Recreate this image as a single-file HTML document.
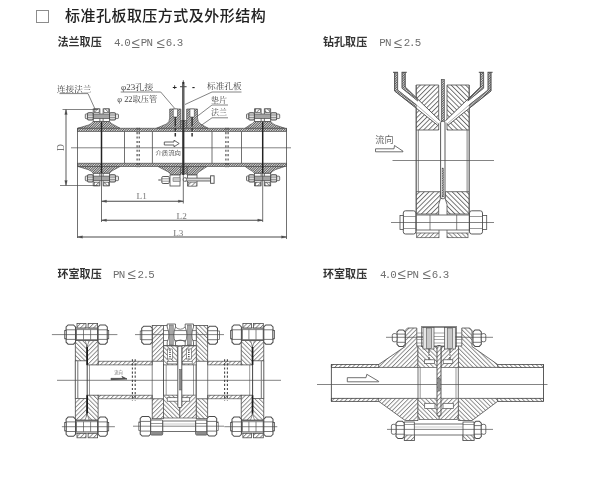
<!DOCTYPE html>
<html lang="zh-CN">
<head>
<meta charset="utf-8">
<title>标准孔板取压方式及外形结构</title>
<style>
html,body{margin:0;padding:0;background:#fff;}
body{width:600px;height:490px;position:relative;overflow:hidden;font-family:"Liberation Sans","Noto Sans CJK SC",sans-serif;}
.t{position:absolute;white-space:nowrap;line-height:1;}
.title{left:65px;top:7.5px;font-size:15px;color:#222;font-weight:500;letter-spacing:0.47px;}
.box{position:absolute;left:35.5px;top:9.5px;width:13px;height:13.5px;border:1px solid #8c8c8c;box-sizing:border-box;}
.h{font-size:11px;color:#333;font-weight:700;letter-spacing:0.05px;}
.p{font-size:10.5px;color:#666;font-family:"Liberation Mono","Noto Sans CJK SC",monospace;letter-spacing:0.4px;}
svg{position:absolute;left:0;top:0;filter:blur(0.4px);}
.t,.box{filter:blur(0.3px);}
</style>
</head>
<body>
<div class="box"></div>
<div class="t title">标准孔板取压方式及外形结构</div>
<div class="t h" style="left:57.5px;top:37.3px;">法兰取压</div>
<div class="t h" style="left:323px;top:37.3px;">钻孔取压</div>
<div class="t h" style="left:57.5px;top:269px;">环室取压</div>
<div class="t h" style="left:323px;top:269px;">环室取压</div>
<svg width="600" height="490" viewBox="0 0 600 490">
<defs>
<pattern id="h1" width="3.1" height="3.1" patternUnits="userSpaceOnUse" patternTransform="rotate(45)"><rect width="3.1" height="3.1" fill="#fff"/><line x1="0.5" y1="0" x2="0.5" y2="3.1" stroke="#606060" stroke-width="0.7"/></pattern>
<pattern id="h2" width="3.1" height="3.1" patternUnits="userSpaceOnUse" patternTransform="rotate(-45)"><rect width="3.1" height="3.1" fill="#fff"/><line x1="0.5" y1="0" x2="0.5" y2="3.1" stroke="#606060" stroke-width="0.7"/></pattern>
<pattern id="b1" width="3.4" height="3.4" patternUnits="userSpaceOnUse" patternTransform="rotate(45)"><rect width="3.4" height="3.4" fill="#fff"/><line x1="0.5" y1="0" x2="0.5" y2="3.4" stroke="#5a5a5a" stroke-width="0.85"/></pattern>
<pattern id="b2" width="3.4" height="3.4" patternUnits="userSpaceOnUse" patternTransform="rotate(-45)"><rect width="3.4" height="3.4" fill="#fff"/><line x1="0.5" y1="0" x2="0.5" y2="3.4" stroke="#5a5a5a" stroke-width="0.85"/></pattern>
<pattern id="hd" width="1.7" height="1.7" patternUnits="userSpaceOnUse" patternTransform="rotate(45)"><rect width="1.7" height="1.7" fill="#e4e4e4"/><line x1="0.5" y1="0" x2="0.5" y2="1.7" stroke="#444" stroke-width="0.8"/></pattern>
<pattern id="hd2" width="1.5" height="1.5" patternUnits="userSpaceOnUse"><rect width="1.5" height="1.5" fill="#fff"/><line x1="0" y1="0" x2="0" y2="1.5" stroke="#444" stroke-width="0.8"/></pattern>
</defs>
<rect x="77.5" y="128.2" width="209.0" height="3.2" fill="url(#hd)" stroke="#4c4c4c" stroke-width="0.69" rx="0" />
<rect x="77.5" y="163.2" width="209.0" height="3.3" fill="url(#hd)" stroke="#4c4c4c" stroke-width="0.69" rx="0" />
<line x1="77.5" y1="128.2" x2="77.5" y2="238.0" stroke="#4c4c4c" stroke-width="0.80" />
<line x1="286.5" y1="128.2" x2="286.5" y2="239.0" stroke="#4c4c4c" stroke-width="0.80" />
<line x1="71.0" y1="147.8" x2="291.0" y2="147.8" stroke="#4c4c4c" stroke-width="0.69" />
<line x1="124.5" y1="131.4" x2="124.5" y2="163.2" stroke="#4c4c4c" stroke-width="0.80" />
<line x1="152.4" y1="131.4" x2="152.4" y2="163.2" stroke="#4c4c4c" stroke-width="0.80" />
<line x1="212.0" y1="131.4" x2="212.0" y2="163.2" stroke="#4c4c4c" stroke-width="0.80" />
<line x1="241.5" y1="131.4" x2="241.5" y2="163.2" stroke="#4c4c4c" stroke-width="0.80" />
<line x1="137.1" y1="127.7" x2="137.1" y2="167.5" stroke="#444" stroke-width="1.09" stroke-dasharray="2.1 2.3"/>
<line x1="139.2" y1="127.7" x2="139.2" y2="167.5" stroke="#444" stroke-width="1.09" stroke-dasharray="2.1 2.3"/>
<line x1="225.9" y1="127.7" x2="225.9" y2="167.5" stroke="#444" stroke-width="1.09" stroke-dasharray="2.1 2.3"/>
<line x1="228.1" y1="127.7" x2="228.1" y2="167.5" stroke="#444" stroke-width="1.09" stroke-dasharray="2.1 2.3"/>
<path d="M78.0,128.2 L88.5,125.0 Q92.0,123.6 93.2,121.4 L109.5,121.4 Q111.0,123.6 114.0,125.0 L120.0,128.2 Z" fill="url(#hd)" stroke="#4c4c4c" stroke-width="0.69" />
<rect x="93.2" y="108.9" width="6.7" height="12.5" fill="#fff" stroke="#4c4c4c" stroke-width="0.80" rx="0" />
<rect x="103.1" y="108.9" width="6.4" height="12.5" fill="#fff" stroke="#4c4c4c" stroke-width="0.80" rx="0" />
<rect x="94.2" y="108.9" width="5.0" height="3.6" fill="url(#h1)" stroke="#4c4c4c" stroke-width="0.69" rx="0" />
<rect x="103.8" y="108.9" width="5.0" height="3.6" fill="url(#h2)" stroke="#4c4c4c" stroke-width="0.69" rx="0" />
<rect x="93.2" y="114.0" width="16.3" height="4.6" fill="#a4a4a4" stroke="#4c4c4c" stroke-width="0.69" rx="0" />
<rect x="87.5" y="112.7" width="5.7" height="7.2" fill="#dcdcdc" stroke="#4c4c4c" stroke-width="1.03" rx="1.2" />
<rect x="109.5" y="112.7" width="6.0" height="7.2" fill="#dcdcdc" stroke="#4c4c4c" stroke-width="1.03" rx="1.2" />
<line x1="87.5" y1="115.0" x2="93.2" y2="115.0" stroke="#4c4c4c" stroke-width="0.57" />
<line x1="87.5" y1="117.6" x2="93.2" y2="117.6" stroke="#4c4c4c" stroke-width="0.57" />
<line x1="109.5" y1="115.0" x2="115.5" y2="115.0" stroke="#4c4c4c" stroke-width="0.57" />
<line x1="109.5" y1="117.6" x2="115.5" y2="117.6" stroke="#4c4c4c" stroke-width="0.57" />
<rect x="85.3" y="113.9" width="2.2" height="4.8" fill="#e8e8e8" stroke="#4c4c4c" stroke-width="0.80" rx="0.8" />
<rect x="115.5" y="114.1" width="3.0" height="4.4" fill="#e8e8e8" stroke="#4c4c4c" stroke-width="0.80" rx="0.8" />
<path d="M78.0,166.5 L88.5,169.7 Q92.0,171.1 93.2,173.3 L109.5,173.3 Q111.0,171.1 114.0,169.7 L120.0,166.5 Z" fill="url(#hd)" stroke="#4c4c4c" stroke-width="0.69" />
<rect x="93.2" y="173.3" width="6.7" height="12.5" fill="#fff" stroke="#4c4c4c" stroke-width="0.80" rx="0" />
<rect x="103.1" y="173.3" width="6.4" height="12.5" fill="#fff" stroke="#4c4c4c" stroke-width="0.80" rx="0" />
<rect x="94.2" y="182.2" width="5.0" height="3.6" fill="url(#h1)" stroke="#4c4c4c" stroke-width="0.69" rx="0" />
<rect x="103.8" y="182.2" width="5.0" height="3.6" fill="url(#h2)" stroke="#4c4c4c" stroke-width="0.69" rx="0" />
<rect x="93.2" y="176.1" width="16.3" height="4.6" fill="#a4a4a4" stroke="#4c4c4c" stroke-width="0.69" rx="0" />
<rect x="87.5" y="174.8" width="5.7" height="7.2" fill="#dcdcdc" stroke="#4c4c4c" stroke-width="1.03" rx="1.2" />
<rect x="109.5" y="174.8" width="6.0" height="7.2" fill="#dcdcdc" stroke="#4c4c4c" stroke-width="1.03" rx="1.2" />
<line x1="87.5" y1="177.1" x2="93.2" y2="177.1" stroke="#4c4c4c" stroke-width="0.57" />
<line x1="87.5" y1="179.7" x2="93.2" y2="179.7" stroke="#4c4c4c" stroke-width="0.57" />
<line x1="109.5" y1="177.1" x2="115.5" y2="177.1" stroke="#4c4c4c" stroke-width="0.57" />
<line x1="109.5" y1="179.7" x2="115.5" y2="179.7" stroke="#4c4c4c" stroke-width="0.57" />
<rect x="85.3" y="176.0" width="2.2" height="4.8" fill="#e8e8e8" stroke="#4c4c4c" stroke-width="0.80" rx="0.8" />
<rect x="115.5" y="176.2" width="3.0" height="4.4" fill="#e8e8e8" stroke="#4c4c4c" stroke-width="0.80" rx="0.8" />
<line x1="101.5" y1="121.5" x2="101.5" y2="173.5" stroke="#222" stroke-width="1.49" />
<path d="M245.2,128.2 L249.7,125.0 Q253.2,123.6 254.4,121.4 L270.7,121.4 Q272.2,123.6 275.2,125.0 L284.7,128.2 Z" fill="url(#hd)" stroke="#4c4c4c" stroke-width="0.69" />
<rect x="254.4" y="108.9" width="6.7" height="12.5" fill="#fff" stroke="#4c4c4c" stroke-width="0.80" rx="0" />
<rect x="264.3" y="108.9" width="6.4" height="12.5" fill="#fff" stroke="#4c4c4c" stroke-width="0.80" rx="0" />
<rect x="255.4" y="108.9" width="5.0" height="3.6" fill="url(#h1)" stroke="#4c4c4c" stroke-width="0.69" rx="0" />
<rect x="265.0" y="108.9" width="5.0" height="3.6" fill="url(#h2)" stroke="#4c4c4c" stroke-width="0.69" rx="0" />
<rect x="254.4" y="114.0" width="16.3" height="4.6" fill="#a4a4a4" stroke="#4c4c4c" stroke-width="0.69" rx="0" />
<rect x="248.7" y="112.7" width="5.7" height="7.2" fill="#dcdcdc" stroke="#4c4c4c" stroke-width="1.03" rx="1.2" />
<rect x="270.7" y="112.7" width="6.0" height="7.2" fill="#dcdcdc" stroke="#4c4c4c" stroke-width="1.03" rx="1.2" />
<line x1="248.7" y1="115.0" x2="254.4" y2="115.0" stroke="#4c4c4c" stroke-width="0.57" />
<line x1="248.7" y1="117.6" x2="254.4" y2="117.6" stroke="#4c4c4c" stroke-width="0.57" />
<line x1="270.7" y1="115.0" x2="276.7" y2="115.0" stroke="#4c4c4c" stroke-width="0.57" />
<line x1="270.7" y1="117.6" x2="276.7" y2="117.6" stroke="#4c4c4c" stroke-width="0.57" />
<rect x="246.5" y="113.9" width="2.2" height="4.8" fill="#e8e8e8" stroke="#4c4c4c" stroke-width="0.80" rx="0.8" />
<rect x="276.7" y="114.1" width="3.0" height="4.4" fill="#e8e8e8" stroke="#4c4c4c" stroke-width="0.80" rx="0.8" />
<path d="M245.2,166.5 L249.7,169.7 Q253.2,171.1 254.4,173.3 L270.7,173.3 Q272.2,171.1 275.2,169.7 L284.7,166.5 Z" fill="url(#hd)" stroke="#4c4c4c" stroke-width="0.69" />
<rect x="254.4" y="173.3" width="6.7" height="12.5" fill="#fff" stroke="#4c4c4c" stroke-width="0.80" rx="0" />
<rect x="264.3" y="173.3" width="6.4" height="12.5" fill="#fff" stroke="#4c4c4c" stroke-width="0.80" rx="0" />
<rect x="255.4" y="182.2" width="5.0" height="3.6" fill="url(#h1)" stroke="#4c4c4c" stroke-width="0.69" rx="0" />
<rect x="265.0" y="182.2" width="5.0" height="3.6" fill="url(#h2)" stroke="#4c4c4c" stroke-width="0.69" rx="0" />
<rect x="254.4" y="176.1" width="16.3" height="4.6" fill="#a4a4a4" stroke="#4c4c4c" stroke-width="0.69" rx="0" />
<rect x="248.7" y="174.8" width="5.7" height="7.2" fill="#dcdcdc" stroke="#4c4c4c" stroke-width="1.03" rx="1.2" />
<rect x="270.7" y="174.8" width="6.0" height="7.2" fill="#dcdcdc" stroke="#4c4c4c" stroke-width="1.03" rx="1.2" />
<line x1="248.7" y1="177.1" x2="254.4" y2="177.1" stroke="#4c4c4c" stroke-width="0.57" />
<line x1="248.7" y1="179.7" x2="254.4" y2="179.7" stroke="#4c4c4c" stroke-width="0.57" />
<line x1="270.7" y1="177.1" x2="276.7" y2="177.1" stroke="#4c4c4c" stroke-width="0.57" />
<line x1="270.7" y1="179.7" x2="276.7" y2="179.7" stroke="#4c4c4c" stroke-width="0.57" />
<rect x="246.5" y="176.0" width="2.2" height="4.8" fill="#e8e8e8" stroke="#4c4c4c" stroke-width="0.80" rx="0.8" />
<rect x="276.7" y="176.2" width="3.0" height="4.4" fill="#e8e8e8" stroke="#4c4c4c" stroke-width="0.80" rx="0.8" />
<line x1="262.7" y1="121.5" x2="262.7" y2="173.5" stroke="#222" stroke-width="1.49" />
<line x1="101.5" y1="173.5" x2="101.5" y2="222.0" stroke="#4c4c4c" stroke-width="0.80" />
<line x1="262.7" y1="173.5" x2="262.7" y2="222.0" stroke="#4c4c4c" stroke-width="0.80" />
<path d="M156.5,128.2 L166.5,124 Q169.7,122 169.7,118 L169.7,109 L180.8,109 L180.8,128.2 Z" fill="url(#hd)" stroke="#4c4c4c" stroke-width="0.69" />
<path d="M208,128.2 L200.5,124 Q197.5,122 197.5,118 L197.5,109 L186.7,109 L186.7,128.2 Z" fill="url(#hd)" stroke="#4c4c4c" stroke-width="0.69" />
<rect x="180.8" y="120.5" width="5.9" height="8.0" fill="url(#hd)" stroke="#4c4c4c" stroke-width="0.57" rx="0" />
<rect x="173.2" y="109.0" width="4.2" height="8.0" fill="#fff" stroke="#4c4c4c" stroke-width="0.57" rx="0" />
<rect x="190.0" y="109.0" width="4.2" height="8.0" fill="#fff" stroke="#4c4c4c" stroke-width="0.57" rx="0" />
<line x1="175.3" y1="117.0" x2="175.3" y2="136.5" stroke="#333" stroke-width="1.49" stroke-dasharray="9.5 1.5 3.5 1.5"/>
<line x1="192.1" y1="117.0" x2="192.1" y2="136.5" stroke="#333" stroke-width="1.49" stroke-dasharray="9.5 1.5 3.5 1.5"/>
<path d="M158,166.5 L167.5,171.5 Q170.5,173 171,175 L180.5,175 L180.5,166.5 Z" fill="url(#hd)" stroke="#4c4c4c" stroke-width="0.69" />
<path d="M207,166.5 L199.5,171.5 Q197,173 196.5,175 L187,175 L187,166.5 Z" fill="url(#hd)" stroke="#4c4c4c" stroke-width="0.69" />
<rect x="180.5" y="166.5" width="6.5" height="7.5" fill="url(#hd)" stroke="#4c4c4c" stroke-width="0.57" rx="0" />
<rect x="170.0" y="175.0" width="10.0" height="11.0" fill="#fff" stroke="#4c4c4c" stroke-width="0.80" rx="0" />
<rect x="173.0" y="177.8" width="7.0" height="3.6" fill="#ccc" stroke="#4c4c4c" stroke-width="0.46" rx="0" />
<rect x="161.8" y="176.5" width="7.6" height="7.0" fill="#fff" stroke="#4c4c4c" stroke-width="0.92" rx="1.3" />
<line x1="161.8" y1="178.8" x2="169.4" y2="178.8" stroke="#4c4c4c" stroke-width="0.57" />
<line x1="161.8" y1="181.2" x2="169.4" y2="181.2" stroke="#4c4c4c" stroke-width="0.57" />
<line x1="158.3" y1="180.0" x2="160.8" y2="180.0" stroke="#4c4c4c" stroke-width="1.03" />
<rect x="187.5" y="175.0" width="9.5" height="11.0" fill="#fff" stroke="#4c4c4c" stroke-width="0.80" rx="0" />
<rect x="188.3" y="182.3" width="7.9" height="3.7" fill="url(#h1)" stroke="#4c4c4c" stroke-width="0.46" rx="0" />
<rect x="185.0" y="178.1" width="26.0" height="2.9" fill="#ddd" stroke="#4c4c4c" stroke-width="0.80" rx="0" />
<rect x="210.6" y="175.8" width="3.5" height="7.5" fill="#fff" stroke="#4c4c4c" stroke-width="0.92" rx="0" />
<circle cx="184.8" cy="179.5" r="1.8" fill="#fff" stroke="#4c4c4c" stroke-width="0.7"/>
<line x1="183.3" y1="82.0" x2="183.3" y2="175.0" stroke="#2e2e2e" stroke-width="2.18" />
<line x1="183.3" y1="84.0" x2="183.3" y2="120.0" stroke="#bbb" stroke-width="0.46" />
<line x1="183.3" y1="175.0" x2="183.3" y2="203.5" stroke="#4c4c4c" stroke-width="0.80" />
<line x1="180.0" y1="86.7" x2="186.6" y2="86.7" stroke="#4c4c4c" stroke-width="1.03" />
<line x1="183.3" y1="80.3" x2="183.3" y2="82.0" stroke="#4c4c4c" stroke-width="0.92" />
<text x="174.6" y="90.3" font-size="7.5" font-family="'Liberation Sans','Noto Sans CJK SC',sans-serif" fill="#222" text-anchor="middle" font-weight="700">+</text>
<text x="193.5" y="90.0" font-size="9" font-family="'Liberation Sans','Noto Sans CJK SC',sans-serif" fill="#222" text-anchor="middle" font-weight="700">-</text>
<path d="M164.3,142 L174,142 L174,140.2 L179.2,143.5 L174,146.8 L174,145 L164.3,145 Z" fill="#fff" stroke="#4c4c4c" stroke-width="0.86" />
<text x="168.2" y="154.6" font-size="5.8" font-family="'Liberation Sans','Noto Sans CJK SC',sans-serif" fill="#555" text-anchor="middle" textLength="25.5" lengthAdjust="spacingAndGlyphs">介质流向</text>
<text x="57.0" y="91.6" font-size="7.6" font-family="'Liberation Serif','Noto Serif CJK SC',serif" fill="#444" text-anchor="start" textLength="34.5" lengthAdjust="spacingAndGlyphs" font-weight="400">连接法兰</text>
<path d="M59.5,93.6 L88,93.6 L95.3,109.7" fill="none" stroke="#4c4c4c" stroke-width="0.69" />
<text x="121.0" y="89.8" font-size="7.6" font-family="'Liberation Serif','Noto Serif CJK SC',serif" fill="#444" text-anchor="start" textLength="32.3" lengthAdjust="spacingAndGlyphs" font-weight="400">φ23孔接</text>
<path d="M120.7,92 L160.7,92 L174.8,108.5" fill="none" stroke="#4c4c4c" stroke-width="0.69" />
<text x="117.3" y="101.6" font-size="7.6" font-family="'Liberation Serif','Noto Serif CJK SC',serif" fill="#444" text-anchor="start" textLength="40" lengthAdjust="spacingAndGlyphs" font-weight="400">φ 22取压管</text>
<text x="207.0" y="89.3" font-size="7.6" font-family="'Liberation Serif','Noto Serif CJK SC',serif" fill="#444" text-anchor="start" textLength="34.7" lengthAdjust="spacingAndGlyphs" font-weight="400">标准孔板</text>
<path d="M241.5,92 L212,92 L185,104.5" fill="none" stroke="#4c4c4c" stroke-width="0.69" />
<text x="211.0" y="102.5" font-size="7.6" font-family="'Liberation Serif','Noto Serif CJK SC',serif" fill="#444" text-anchor="start" textLength="16" lengthAdjust="spacingAndGlyphs" font-weight="400">垫片</text>
<path d="M228,105 L212,105 L197,116.5" fill="none" stroke="#4c4c4c" stroke-width="0.69" />
<text x="211.0" y="115.4" font-size="7.6" font-family="'Liberation Serif','Noto Serif CJK SC',serif" fill="#444" text-anchor="start" textLength="16" lengthAdjust="spacingAndGlyphs" font-weight="400">法兰</text>
<path d="M228,117.8 L212,117.8 L201,125.5" fill="none" stroke="#4c4c4c" stroke-width="0.69" />
<line x1="62.5" y1="109.5" x2="98.0" y2="109.5" stroke="#4c4c4c" stroke-width="0.69" />
<line x1="60.0" y1="185.5" x2="98.0" y2="185.5" stroke="#4c4c4c" stroke-width="0.69" />
<line x1="66.0" y1="109.5" x2="66.0" y2="185.5" stroke="#4c4c4c" stroke-width="0.92" />
<polygon points="66.0,109.5 64.7,114.5 67.3,114.5" fill="#4c4c4c" stroke="#4c4c4c" stroke-width="0.23" />
<polygon points="66.0,185.5 64.7,180.5 67.3,180.5" fill="#4c4c4c" stroke="#4c4c4c" stroke-width="0.23" />
<text x="60.5" y="147.5" font-size="9.5" font-family="'Liberation Serif','Noto Serif CJK SC',serif" fill="#777" text-anchor="middle" transform="rotate(-90 60.5 147.5)" dy="3.2">D</text>
<line x1="101.5" y1="201.3" x2="183.3" y2="201.3" stroke="#4a4a4a" stroke-width="1.03" />
<polygon points="101.5,201.3 106.5,200.0 106.5,202.6" fill="#4c4c4c" stroke="#4c4c4c" stroke-width="0.23" />
<polygon points="183.3,201.3 178.3,200.0 178.3,202.6" fill="#4c4c4c" stroke="#4c4c4c" stroke-width="0.23" />
<text x="141.7" y="199.3" font-size="9.2" font-family="'Liberation Serif','Noto Serif CJK SC',serif" fill="#777" text-anchor="middle" >L1</text>
<line x1="101.5" y1="220.3" x2="262.7" y2="220.3" stroke="#4a4a4a" stroke-width="1.03" />
<polygon points="101.5,220.3 106.5,219.0 106.5,221.6" fill="#4c4c4c" stroke="#4c4c4c" stroke-width="0.23" />
<polygon points="262.7,220.3 257.7,219.0 257.7,221.6" fill="#4c4c4c" stroke="#4c4c4c" stroke-width="0.23" />
<text x="181.7" y="219.0" font-size="9.2" font-family="'Liberation Serif','Noto Serif CJK SC',serif" fill="#777" text-anchor="middle" >L2</text>
<line x1="77.5" y1="237.0" x2="286.5" y2="237.0" stroke="#4a4a4a" stroke-width="1.03" />
<polygon points="77.5,237.0 82.5,235.7 82.5,238.3" fill="#4c4c4c" stroke="#4c4c4c" stroke-width="0.23" />
<polygon points="286.5,237.0 281.5,235.7 281.5,238.3" fill="#4c4c4c" stroke="#4c4c4c" stroke-width="0.23" />
<text x="178.3" y="235.7" font-size="9.2" font-family="'Liberation Serif','Noto Serif CJK SC',serif" fill="#777" text-anchor="middle" >L3</text>
<polygon points="416.2,85.0 438.7,85.0 438.7,130.0 416.2,130.0" fill="url(#b1)" stroke="#4c4c4c" stroke-width="0.80" />
<polygon points="469.2,85.0 447.0,85.0 447.0,130.0 469.2,130.0" fill="url(#b2)" stroke="#4c4c4c" stroke-width="0.80" />
<polygon points="416.2,191.7 440.3,191.7 440.3,199.0 438.7,204.5 438.7,214.0 416.2,214.0" fill="url(#b1)" stroke="#4c4c4c" stroke-width="0.80" />
<polygon points="469.2,191.7 445.3,191.7 445.3,199.0 447.0,204.5 447.0,214.0 469.2,214.0" fill="url(#b2)" stroke="#4c4c4c" stroke-width="0.80" />
<line x1="416.2" y1="130.0" x2="416.2" y2="191.7" stroke="#4c4c4c" stroke-width="0.69" />
<line x1="418.3" y1="130.0" x2="418.3" y2="191.7" stroke="#4c4c4c" stroke-width="0.69" />
<line x1="467.1" y1="130.0" x2="467.1" y2="191.7" stroke="#4c4c4c" stroke-width="0.69" />
<line x1="469.2" y1="130.0" x2="469.2" y2="191.7" stroke="#4c4c4c" stroke-width="0.69" />
<line x1="416.2" y1="85.0" x2="416.2" y2="233.0" stroke="#4c4c4c" stroke-width="0.69" />
<line x1="469.2" y1="85.0" x2="469.2" y2="233.0" stroke="#4c4c4c" stroke-width="0.69" />
<polygon points="394.6,72.5 394.6,91.0 437.2,124.8 440.2,121.2 405.2,87.0 405.2,72.5" fill="#fff" stroke="#fff" stroke-width="0.01" />
<polygon points="394.6,72.5 394.6,91.0 416.5,108.4 416.5,105.0 397.6,90.0 397.6,72.5" fill="url(#hd)" stroke="#4c4c4c" stroke-width="0.34" />
<polygon points="405.2,72.5 405.2,87.0 417.8,99.2 417.8,101.0 402.0,88.2 402.0,72.5" fill="url(#hd)" stroke="#4c4c4c" stroke-width="0.34" />
<path d="M394.6,72.5 L394.6,91 L437.6,125.2" fill="none" stroke="#4c4c4c" stroke-width="0.92" />
<path d="M405.2,72.5 L405.2,87 L440.4,121" fill="none" stroke="#4c4c4c" stroke-width="0.92" />
<path d="M397.6,72.5 L397.6,90 L416.5,105" fill="none" stroke="#555" stroke-width="0.80" />
<path d="M402.0,72.5 L402.0,88.2 L417.8,101" fill="none" stroke="#555" stroke-width="0.80" />
<path d="M416.5,105 L438.6,124" fill="none" stroke="#777" stroke-width="0.57" />
<line x1="393.0" y1="72.3" x2="398.0" y2="72.3" stroke="#4c4c4c" stroke-width="1.03" />
<line x1="401.6" y1="72.3" x2="406.8" y2="72.3" stroke="#4c4c4c" stroke-width="1.03" />
<polygon points="491.0,72.5 491.0,91.0 448.4,124.8 445.4,121.2 480.4,87.0 480.4,72.5" fill="#fff" stroke="#fff" stroke-width="0.01" />
<polygon points="491.0,72.5 491.0,91.0 469.1,108.4 469.1,105.0 488.0,90.0 488.0,72.5" fill="url(#hd)" stroke="#4c4c4c" stroke-width="0.34" />
<polygon points="480.4,72.5 480.4,87.0 467.8,99.2 467.8,101.0 483.6,88.2 483.6,72.5" fill="url(#hd)" stroke="#4c4c4c" stroke-width="0.34" />
<path d="M491.0,72.5 L491.0,91 L448.0,125.2" fill="none" stroke="#4c4c4c" stroke-width="0.92" />
<path d="M480.4,72.5 L480.4,87 L445.2,121" fill="none" stroke="#4c4c4c" stroke-width="0.92" />
<path d="M488.0,72.5 L488.0,90 L469.1,105" fill="none" stroke="#555" stroke-width="0.80" />
<path d="M483.6,72.5 L483.6,88.2 L467.8,101" fill="none" stroke="#555" stroke-width="0.80" />
<path d="M469.1,105 L447.0,124" fill="none" stroke="#777" stroke-width="0.57" />
<line x1="492.6" y1="72.3" x2="487.6" y2="72.3" stroke="#4c4c4c" stroke-width="1.03" />
<line x1="484.0" y1="72.3" x2="478.8" y2="72.3" stroke="#4c4c4c" stroke-width="1.03" />
<rect x="441.3" y="79.5" width="3.0" height="42.0" fill="url(#hd)" stroke="#4c4c4c" stroke-width="0.69" rx="0" />
<rect x="440.6" y="121.3" width="4.4" height="77.4" fill="#fff" stroke="#4c4c4c" stroke-width="0.92" rx="1.6" />
<rect x="442.0" y="168.0" width="1.7" height="29.0" fill="url(#hd)" stroke="#4c4c4c" stroke-width="0.34" rx="0" />
<line x1="392.5" y1="160.5" x2="494.0" y2="160.5" stroke="#4c4c4c" stroke-width="0.69" />
<text x="375.3" y="142.8" font-size="9.2" font-family="'Liberation Sans','Noto Sans CJK SC',sans-serif" fill="#666" text-anchor="start" >流向</text>
<path d="M375.5,148.8 L394,148.8 L394.5,145.5 L403,151.2 L403,151.8 L375.5,151.8 Z" fill="#fff" stroke="#4c4c4c" stroke-width="0.80" />
<rect x="416.2" y="215.0" width="53.0" height="15.0" fill="#fff" stroke="#4c4c4c" stroke-width="0.80" rx="0" />
<line x1="430.0" y1="215.0" x2="430.0" y2="230.0" stroke="#4c4c4c" stroke-width="0.69" />
<line x1="456.7" y1="215.0" x2="456.7" y2="230.0" stroke="#4c4c4c" stroke-width="0.69" />
<rect x="403.3" y="210.8" width="12.5" height="23.2" fill="#fff" stroke="#4c4c4c" stroke-width="0.92" rx="2.2" />
<rect x="469.5" y="210.8" width="13.0" height="23.2" fill="#fff" stroke="#4c4c4c" stroke-width="0.92" rx="2.2" />
<line x1="403.3" y1="216.5" x2="415.8" y2="216.5" stroke="#4c4c4c" stroke-width="0.57" />
<line x1="403.3" y1="228.5" x2="415.8" y2="228.5" stroke="#4c4c4c" stroke-width="0.57" />
<line x1="469.5" y1="216.5" x2="482.5" y2="216.5" stroke="#4c4c4c" stroke-width="0.57" />
<line x1="469.5" y1="228.5" x2="482.5" y2="228.5" stroke="#4c4c4c" stroke-width="0.57" />
<rect x="400.0" y="215.5" width="3.3" height="14.0" fill="#fff" stroke="#4c4c4c" stroke-width="0.80" rx="0" />
<rect x="482.5" y="215.5" width="4.2" height="14.0" fill="#fff" stroke="#4c4c4c" stroke-width="0.80" rx="0" />
<line x1="391.0" y1="222.5" x2="494.0" y2="222.5" stroke="#4c4c4c" stroke-width="0.69" />
<rect x="416.7" y="233.0" width="22.3" height="4.7" fill="url(#h1)" stroke="#4c4c4c" stroke-width="0.69" rx="0" />
<rect x="447.0" y="233.0" width="21.0" height="4.7" fill="url(#h2)" stroke="#4c4c4c" stroke-width="0.69" rx="0" />
<line x1="438.7" y1="214.0" x2="438.7" y2="215.0" stroke="#4c4c4c" stroke-width="0.69" />
<line x1="447.0" y1="214.0" x2="447.0" y2="215.0" stroke="#4c4c4c" stroke-width="0.69" />
<line x1="439.0" y1="230.0" x2="439.0" y2="233.0" stroke="#4c4c4c" stroke-width="0.69" />
<line x1="447.0" y1="230.0" x2="447.0" y2="233.0" stroke="#4c4c4c" stroke-width="0.69" />
<line x1="57.0" y1="380.3" x2="281.0" y2="380.3" stroke="#4c4c4c" stroke-width="0.69" />
<rect x="98.0" y="361.2" width="54.2" height="3.7" fill="url(#h1)" stroke="#4c4c4c" stroke-width="0.69" rx="0" />
<rect x="98.0" y="395.2" width="54.2" height="3.6" fill="url(#h1)" stroke="#4c4c4c" stroke-width="0.69" rx="0" />
<rect x="207.7" y="361.2" width="33.5" height="3.7" fill="url(#h1)" stroke="#4c4c4c" stroke-width="0.69" rx="0" />
<rect x="207.7" y="395.2" width="33.5" height="3.6" fill="url(#h1)" stroke="#4c4c4c" stroke-width="0.69" rx="0" />
<line x1="132.4" y1="359.2" x2="132.4" y2="400.8" stroke="#444" stroke-width="1.09" stroke-dasharray="2.2 1.9"/>
<line x1="135.2" y1="359.2" x2="135.2" y2="400.8" stroke="#444" stroke-width="1.09" stroke-dasharray="2.2 1.9"/>
<line x1="224.6" y1="359.2" x2="224.6" y2="400.8" stroke="#444" stroke-width="1.09" stroke-dasharray="2.2 1.9"/>
<line x1="227.4" y1="359.2" x2="227.4" y2="400.8" stroke="#444" stroke-width="1.09" stroke-dasharray="2.2 1.9"/>
<rect x="75.3" y="340.6" width="11.6" height="20.2" fill="url(#h2)" stroke="#4c4c4c" stroke-width="0.80" rx="0" />
<rect x="86.9" y="340.6" width="11.2" height="24.3" fill="url(#h1)" stroke="#4c4c4c" stroke-width="0.80" rx="0" />
<rect x="75.3" y="398.6" width="11.6" height="21.4" fill="url(#h1)" stroke="#4c4c4c" stroke-width="0.80" rx="0" />
<rect x="86.9" y="395.2" width="11.2" height="24.8" fill="url(#h2)" stroke="#4c4c4c" stroke-width="0.80" rx="0" />
<line x1="75.3" y1="360.8" x2="75.3" y2="398.6" stroke="#4c4c4c" stroke-width="0.92" />
<line x1="77.8" y1="360.8" x2="77.8" y2="398.6" stroke="#777" stroke-width="1.03" />
<line x1="89.5" y1="364.9" x2="89.5" y2="395.2" stroke="#4c4c4c" stroke-width="0.57" />
<line x1="87.2" y1="347.0" x2="87.2" y2="364.9" stroke="#1a1a1a" stroke-width="1.61" />
<line x1="87.2" y1="395.2" x2="87.2" y2="413.6" stroke="#1a1a1a" stroke-width="1.61" />
<line x1="87.2" y1="364.9" x2="87.2" y2="395.2" stroke="#333" stroke-width="0.92" />
<polygon points="85.1,340.6 89.1,340.6 87.2,346.6" fill="#fff" stroke="#4c4c4c" stroke-width="0.57" />
<polygon points="85.1,420.0 89.1,420.0 87.2,414.0" fill="#fff" stroke="#4c4c4c" stroke-width="0.57" />
<rect x="75.8" y="328.0" width="21.8" height="12.6" fill="#fff" stroke="#4c4c4c" stroke-width="0.80" rx="0" />
<rect x="77.0" y="323.5" width="9.0" height="4.5" fill="url(#h1)" stroke="#4c4c4c" stroke-width="0.80" rx="0" />
<rect x="88.1" y="323.5" width="9.5" height="4.5" fill="url(#h1)" stroke="#4c4c4c" stroke-width="0.80" rx="0" />
<line x1="65.9" y1="329.6" x2="107.9" y2="329.6" stroke="#4c4c4c" stroke-width="0.69" />
<line x1="65.9" y1="339.6" x2="107.9" y2="339.6" stroke="#4c4c4c" stroke-width="0.69" />
<line x1="76.5" y1="329.6" x2="76.5" y2="339.6" stroke="#4c4c4c" stroke-width="0.69" />
<line x1="83.5" y1="329.6" x2="83.5" y2="339.6" stroke="#4c4c4c" stroke-width="0.69" />
<line x1="90.6" y1="329.6" x2="90.6" y2="339.6" stroke="#4c4c4c" stroke-width="0.69" />
<line x1="97.6" y1="329.6" x2="97.6" y2="339.6" stroke="#4c4c4c" stroke-width="0.69" />
<polygon points="68.1,325.0 73.5,325.0 75.5,327.0 75.5,342.2 73.5,344.2 68.1,344.2 66.1,342.2 66.1,327.0" fill="#fff" stroke="#4c4c4c" stroke-width="1.03" />
<line x1="66.1" y1="329.8" x2="75.5" y2="329.8" stroke="#4c4c4c" stroke-width="0.75" />
<line x1="66.1" y1="339.4" x2="75.5" y2="339.4" stroke="#4c4c4c" stroke-width="0.75" />
<polygon points="100.1,325.0 105.3,325.0 107.3,327.0 107.3,342.2 105.3,344.2 100.1,344.2 98.1,342.2 98.1,327.0" fill="#fff" stroke="#4c4c4c" stroke-width="1.03" />
<line x1="98.1" y1="329.8" x2="107.3" y2="329.8" stroke="#4c4c4c" stroke-width="0.75" />
<line x1="98.1" y1="339.4" x2="107.3" y2="339.4" stroke="#4c4c4c" stroke-width="0.75" />
<rect x="64.7" y="330.4" width="1.4" height="8.4" fill="#fff" stroke="#4c4c4c" stroke-width="0.80" rx="0" />
<rect x="107.3" y="330.4" width="1.4" height="8.4" fill="#fff" stroke="#4c4c4c" stroke-width="0.80" rx="0" />
<line x1="51.9" y1="334.6" x2="117.4" y2="334.6" stroke="#4c4c4c" stroke-width="0.69" />
<rect x="75.8" y="420.5" width="21.8" height="12.6" fill="#fff" stroke="#4c4c4c" stroke-width="0.80" rx="0" />
<rect x="77.0" y="433.3" width="9.0" height="4.5" fill="url(#h1)" stroke="#4c4c4c" stroke-width="0.80" rx="0" />
<rect x="88.1" y="433.3" width="9.5" height="4.5" fill="url(#h1)" stroke="#4c4c4c" stroke-width="0.80" rx="0" />
<line x1="65.9" y1="421.7" x2="107.9" y2="421.7" stroke="#4c4c4c" stroke-width="0.69" />
<line x1="65.9" y1="431.7" x2="107.9" y2="431.7" stroke="#4c4c4c" stroke-width="0.69" />
<line x1="76.5" y1="421.7" x2="76.5" y2="431.7" stroke="#4c4c4c" stroke-width="0.69" />
<line x1="83.5" y1="421.7" x2="83.5" y2="431.7" stroke="#4c4c4c" stroke-width="0.69" />
<line x1="90.6" y1="421.7" x2="90.6" y2="431.7" stroke="#4c4c4c" stroke-width="0.69" />
<line x1="97.6" y1="421.7" x2="97.6" y2="431.7" stroke="#4c4c4c" stroke-width="0.69" />
<polygon points="68.1,417.1 73.5,417.1 75.5,419.1 75.5,434.3 73.5,436.3 68.1,436.3 66.1,434.3 66.1,419.1" fill="#fff" stroke="#4c4c4c" stroke-width="1.03" />
<line x1="66.1" y1="421.9" x2="75.5" y2="421.9" stroke="#4c4c4c" stroke-width="0.75" />
<line x1="66.1" y1="431.5" x2="75.5" y2="431.5" stroke="#4c4c4c" stroke-width="0.75" />
<polygon points="100.1,417.1 105.3,417.1 107.3,419.1 107.3,434.3 105.3,436.3 100.1,436.3 98.1,434.3 98.1,419.1" fill="#fff" stroke="#4c4c4c" stroke-width="1.03" />
<line x1="98.1" y1="421.9" x2="107.3" y2="421.9" stroke="#4c4c4c" stroke-width="0.75" />
<line x1="98.1" y1="431.5" x2="107.3" y2="431.5" stroke="#4c4c4c" stroke-width="0.75" />
<rect x="64.7" y="422.5" width="1.4" height="8.4" fill="#fff" stroke="#4c4c4c" stroke-width="0.80" rx="0" />
<rect x="107.3" y="422.5" width="1.4" height="8.4" fill="#fff" stroke="#4c4c4c" stroke-width="0.80" rx="0" />
<line x1="61.9" y1="426.7" x2="114.9" y2="426.7" stroke="#4c4c4c" stroke-width="0.69" />
<rect x="241.2" y="340.6" width="11.1" height="24.3" fill="url(#h2)" stroke="#4c4c4c" stroke-width="0.80" rx="0" />
<rect x="252.3" y="340.6" width="11.5" height="20.2" fill="url(#h1)" stroke="#4c4c4c" stroke-width="0.80" rx="0" />
<rect x="241.2" y="395.2" width="11.1" height="24.8" fill="url(#h1)" stroke="#4c4c4c" stroke-width="0.80" rx="0" />
<rect x="252.3" y="398.6" width="11.5" height="21.4" fill="url(#h2)" stroke="#4c4c4c" stroke-width="0.80" rx="0" />
<line x1="263.8" y1="360.8" x2="263.8" y2="398.6" stroke="#4c4c4c" stroke-width="0.92" />
<line x1="261.3" y1="360.8" x2="261.3" y2="398.6" stroke="#777" stroke-width="1.03" />
<line x1="249.7" y1="364.9" x2="249.7" y2="395.2" stroke="#4c4c4c" stroke-width="0.57" />
<line x1="252.6" y1="347.0" x2="252.6" y2="364.9" stroke="#1a1a1a" stroke-width="1.61" />
<line x1="252.6" y1="395.2" x2="252.6" y2="413.6" stroke="#1a1a1a" stroke-width="1.61" />
<line x1="252.6" y1="364.9" x2="252.6" y2="395.2" stroke="#333" stroke-width="0.92" />
<polygon points="250.5,340.6 254.5,340.6 252.6,346.6" fill="#fff" stroke="#4c4c4c" stroke-width="0.57" />
<polygon points="250.5,420.0 254.5,420.0 252.6,414.0" fill="#fff" stroke="#4c4c4c" stroke-width="0.57" />
<rect x="241.7" y="328.0" width="21.6" height="12.6" fill="#fff" stroke="#4c4c4c" stroke-width="0.80" rx="0" />
<rect x="242.9" y="323.5" width="8.5" height="4.5" fill="url(#h1)" stroke="#4c4c4c" stroke-width="0.80" rx="0" />
<rect x="253.5" y="323.5" width="9.8" height="4.5" fill="url(#h1)" stroke="#4c4c4c" stroke-width="0.80" rx="0" />
<line x1="231.3" y1="329.6" x2="273.3" y2="329.6" stroke="#4c4c4c" stroke-width="0.69" />
<line x1="231.3" y1="339.6" x2="273.3" y2="339.6" stroke="#4c4c4c" stroke-width="0.69" />
<line x1="242.4" y1="329.6" x2="242.4" y2="339.6" stroke="#4c4c4c" stroke-width="0.69" />
<line x1="248.9" y1="329.6" x2="248.9" y2="339.6" stroke="#4c4c4c" stroke-width="0.69" />
<line x1="256.0" y1="329.6" x2="256.0" y2="339.6" stroke="#4c4c4c" stroke-width="0.69" />
<line x1="263.3" y1="329.6" x2="263.3" y2="339.6" stroke="#4c4c4c" stroke-width="0.69" />
<polygon points="234.0,325.0 239.4,325.0 241.4,327.0 241.4,342.2 239.4,344.2 234.0,344.2 232.0,342.2 232.0,327.0" fill="#fff" stroke="#4c4c4c" stroke-width="1.03" />
<line x1="232.0" y1="329.8" x2="241.4" y2="329.8" stroke="#4c4c4c" stroke-width="0.75" />
<line x1="232.0" y1="339.4" x2="241.4" y2="339.4" stroke="#4c4c4c" stroke-width="0.75" />
<polygon points="265.8,325.0 271.0,325.0 273.0,327.0 273.0,342.2 271.0,344.2 265.8,344.2 263.8,342.2 263.8,327.0" fill="#fff" stroke="#4c4c4c" stroke-width="1.03" />
<line x1="263.8" y1="329.8" x2="273.0" y2="329.8" stroke="#4c4c4c" stroke-width="0.75" />
<line x1="263.8" y1="339.4" x2="273.0" y2="339.4" stroke="#4c4c4c" stroke-width="0.75" />
<rect x="230.6" y="330.4" width="1.4" height="8.4" fill="#fff" stroke="#4c4c4c" stroke-width="0.80" rx="0" />
<rect x="273.0" y="330.4" width="1.4" height="8.4" fill="#fff" stroke="#4c4c4c" stroke-width="0.80" rx="0" />
<rect x="241.7" y="420.5" width="21.6" height="12.6" fill="#fff" stroke="#4c4c4c" stroke-width="0.80" rx="0" />
<rect x="242.9" y="433.3" width="8.5" height="4.5" fill="url(#h1)" stroke="#4c4c4c" stroke-width="0.80" rx="0" />
<rect x="253.5" y="433.3" width="9.8" height="4.5" fill="url(#h1)" stroke="#4c4c4c" stroke-width="0.80" rx="0" />
<line x1="231.3" y1="421.7" x2="273.3" y2="421.7" stroke="#4c4c4c" stroke-width="0.69" />
<line x1="231.3" y1="431.7" x2="273.3" y2="431.7" stroke="#4c4c4c" stroke-width="0.69" />
<line x1="242.4" y1="421.7" x2="242.4" y2="431.7" stroke="#4c4c4c" stroke-width="0.69" />
<line x1="248.9" y1="421.7" x2="248.9" y2="431.7" stroke="#4c4c4c" stroke-width="0.69" />
<line x1="256.0" y1="421.7" x2="256.0" y2="431.7" stroke="#4c4c4c" stroke-width="0.69" />
<line x1="263.3" y1="421.7" x2="263.3" y2="431.7" stroke="#4c4c4c" stroke-width="0.69" />
<polygon points="234.0,417.1 239.4,417.1 241.4,419.1 241.4,434.3 239.4,436.3 234.0,436.3 232.0,434.3 232.0,419.1" fill="#fff" stroke="#4c4c4c" stroke-width="1.03" />
<line x1="232.0" y1="421.9" x2="241.4" y2="421.9" stroke="#4c4c4c" stroke-width="0.75" />
<line x1="232.0" y1="431.5" x2="241.4" y2="431.5" stroke="#4c4c4c" stroke-width="0.75" />
<polygon points="265.8,417.1 271.0,417.1 273.0,419.1 273.0,434.3 271.0,436.3 265.8,436.3 263.8,434.3 263.8,419.1" fill="#fff" stroke="#4c4c4c" stroke-width="1.03" />
<line x1="263.8" y1="421.9" x2="273.0" y2="421.9" stroke="#4c4c4c" stroke-width="0.75" />
<line x1="263.8" y1="431.5" x2="273.0" y2="431.5" stroke="#4c4c4c" stroke-width="0.75" />
<rect x="230.6" y="422.5" width="1.4" height="8.4" fill="#fff" stroke="#4c4c4c" stroke-width="0.80" rx="0" />
<rect x="273.0" y="422.5" width="1.4" height="8.4" fill="#fff" stroke="#4c4c4c" stroke-width="0.80" rx="0" />
<line x1="224.3" y1="426.7" x2="277.3" y2="426.7" stroke="#4c4c4c" stroke-width="0.69" />
<rect x="152.2" y="325.5" width="11.3" height="35.7" fill="url(#h1)" stroke="#4c4c4c" stroke-width="0.80" rx="0" />
<rect x="152.2" y="398.8" width="11.3" height="19.9" fill="url(#h1)" stroke="#4c4c4c" stroke-width="0.80" rx="0" />
<line x1="152.2" y1="361.2" x2="152.2" y2="398.8" stroke="#4c4c4c" stroke-width="0.69" />
<line x1="163.5" y1="361.2" x2="163.5" y2="398.8" stroke="#4c4c4c" stroke-width="0.69" />
<rect x="196.2" y="325.5" width="11.5" height="35.7" fill="url(#h2)" stroke="#4c4c4c" stroke-width="0.80" rx="0" />
<rect x="196.2" y="398.8" width="11.5" height="19.9" fill="url(#h2)" stroke="#4c4c4c" stroke-width="0.80" rx="0" />
<line x1="196.2" y1="361.2" x2="196.2" y2="398.8" stroke="#4c4c4c" stroke-width="0.69" />
<line x1="207.7" y1="361.2" x2="207.7" y2="398.8" stroke="#4c4c4c" stroke-width="0.69" />
<rect x="163.5" y="330.7" width="32.7" height="9.8" fill="#fff" stroke="#4c4c4c" stroke-width="0.69" rx="0" />
<rect x="163.5" y="345.7" width="13.8" height="19.2" fill="url(#h2)" stroke="#4c4c4c" stroke-width="0.69" rx="0" />
<rect x="182.0" y="345.7" width="14.2" height="19.2" fill="url(#h1)" stroke="#4c4c4c" stroke-width="0.69" rx="0" />
<rect x="167.5" y="349.0" width="5.0" height="10.0" fill="#fff" stroke="#4c4c4c" stroke-width="0.57" rx="0" />
<rect x="186.3" y="349.0" width="5.0" height="10.0" fill="#fff" stroke="#4c4c4c" stroke-width="0.57" rx="0" />
<line x1="170.0" y1="349.5" x2="170.0" y2="358.5" stroke="#555" stroke-width="1.61" stroke-dasharray="1.2 1"/>
<line x1="188.8" y1="349.5" x2="188.8" y2="358.5" stroke="#555" stroke-width="1.61" stroke-dasharray="1.2 1"/>
<rect x="167.2" y="361.3" width="10.0" height="2.6" fill="#fff" stroke="#4c4c4c" stroke-width="0.57" rx="0" />
<rect x="182.2" y="361.3" width="10.0" height="2.6" fill="#fff" stroke="#4c4c4c" stroke-width="0.57" rx="0" />
<polygon points="163.5,395.2 179.8,395.2 179.8,418.0 163.5,418.0" fill="url(#h2)" stroke="#4c4c4c" stroke-width="0.69" />
<polygon points="196.2,395.2 179.8,395.2 179.8,418.0 196.2,418.0" fill="url(#h1)" stroke="#4c4c4c" stroke-width="0.69" />
<rect x="167.2" y="397.7" width="22.5" height="3.5" fill="#fff" stroke="#4c4c4c" stroke-width="0.69" rx="0" />
<rect x="178.3" y="397.7" width="3.4" height="8.5" fill="#fff" stroke="#4c4c4c" stroke-width="0.69" rx="0" />
<line x1="163.5" y1="364.9" x2="163.5" y2="395.2" stroke="#4c4c4c" stroke-width="0.69" />
<line x1="196.2" y1="364.9" x2="196.2" y2="395.2" stroke="#4c4c4c" stroke-width="0.69" />
<line x1="166.2" y1="364.9" x2="166.2" y2="395.2" stroke="#4c4c4c" stroke-width="0.57" />
<line x1="193.5" y1="364.9" x2="193.5" y2="395.2" stroke="#4c4c4c" stroke-width="0.57" />
<path d="M167.2,324 L175.5,324 L175.5,327 Q173.79999999999998,331 173.79999999999998,335 Q173.79999999999998,339 175.5,342 L175.5,345.7 L167.2,345.7 L167.2,342 Q168.89999999999998,339 168.89999999999998,335 Q168.89999999999998,331 167.2,327 Z" fill="#fff" stroke="#4c4c4c" stroke-width="0.80" />
<rect x="169.5" y="325.0" width="3.7" height="20.0" fill="#a8a8a8" stroke="#4c4c4c" stroke-width="0.46" rx="0" />
<path d="M185.2,324 L193.5,324 L193.5,327 Q191.79999999999998,331 191.79999999999998,335 Q191.79999999999998,339 193.5,342 L193.5,345.7 L185.2,345.7 L185.2,342 Q186.89999999999998,339 186.89999999999998,335 Q186.89999999999998,331 185.2,327 Z" fill="#fff" stroke="#4c4c4c" stroke-width="0.80" />
<rect x="187.5" y="325.0" width="3.7" height="20.0" fill="#a8a8a8" stroke="#4c4c4c" stroke-width="0.46" rx="0" />
<path d="M175.5,327 Q180.3,331.5 185.2,327" fill="none" stroke="#4c4c4c" stroke-width="0.69" />
<path d="M175.5,342 Q180.3,338 185.2,342" fill="none" stroke="#4c4c4c" stroke-width="0.69" />
<line x1="163.5" y1="325.5" x2="167.2" y2="325.5" stroke="#4c4c4c" stroke-width="0.80" />
<line x1="193.5" y1="325.5" x2="196.2" y2="325.5" stroke="#4c4c4c" stroke-width="0.80" />
<line x1="163.5" y1="345.7" x2="196.2" y2="345.7" stroke="#4c4c4c" stroke-width="0.69" />
<rect x="177.8" y="346.2" width="4.0" height="61.4" fill="#fff" stroke="#4c4c4c" stroke-width="0.92" rx="1.2" />
<rect x="179.5" y="369.5" width="2.3" height="20.5" fill="#8a8a8a" stroke="#4c4c4c" stroke-width="0.46" rx="0" />
<polygon points="143.7,326.2 150.2,326.2 152.2,328.2 152.2,342.2 150.2,344.2 143.7,344.2 141.7,342.2 141.7,328.2" fill="#fff" stroke="#4c4c4c" stroke-width="1.03" />
<line x1="141.7" y1="330.7" x2="152.2" y2="330.7" stroke="#4c4c4c" stroke-width="0.75" />
<line x1="141.7" y1="339.7" x2="152.2" y2="339.7" stroke="#4c4c4c" stroke-width="0.75" />
<polygon points="209.7,326.2 215.5,326.2 217.5,328.2 217.5,342.2 215.5,344.2 209.7,344.2 207.7,342.2 207.7,328.2" fill="#fff" stroke="#4c4c4c" stroke-width="1.03" />
<line x1="207.7" y1="330.7" x2="217.5" y2="330.7" stroke="#4c4c4c" stroke-width="0.75" />
<line x1="207.7" y1="339.7" x2="217.5" y2="339.7" stroke="#4c4c4c" stroke-width="0.75" />
<rect x="140.2" y="331.0" width="1.5" height="8.4" fill="#fff" stroke="#4c4c4c" stroke-width="0.69" rx="0" />
<rect x="217.5" y="331.0" width="2.0" height="8.4" fill="#fff" stroke="#4c4c4c" stroke-width="0.69" rx="0" />
<line x1="135.0" y1="334.6" x2="224.0" y2="334.6" stroke="#4c4c4c" stroke-width="0.69" />
<rect x="162.7" y="421.0" width="33.0" height="10.5" fill="#fff" stroke="#4c4c4c" stroke-width="0.80" rx="0" />
<line x1="162.7" y1="424.0" x2="195.7" y2="424.0" stroke="#888" stroke-width="0.46" />
<polygon points="142.2,416.5 148.7,416.5 150.7,418.5 150.7,434.0 148.7,436.0 142.2,436.0 140.2,434.0 140.2,418.5" fill="#fff" stroke="#4c4c4c" stroke-width="1.03" />
<line x1="140.2" y1="421.4" x2="150.7" y2="421.4" stroke="#4c4c4c" stroke-width="0.75" />
<line x1="140.2" y1="431.1" x2="150.7" y2="431.1" stroke="#4c4c4c" stroke-width="0.75" />
<rect x="150.7" y="420.0" width="12.0" height="15.0" fill="#fff" stroke="#4c4c4c" stroke-width="0.92" rx="1" />
<rect x="195.7" y="420.0" width="11.3" height="15.0" fill="#fff" stroke="#4c4c4c" stroke-width="0.92" rx="1" />
<polygon points="209.0,416.5 214.7,416.5 216.7,418.5 216.7,434.0 214.7,436.0 209.0,436.0 207.0,434.0 207.0,418.5" fill="#fff" stroke="#4c4c4c" stroke-width="1.03" />
<line x1="207.0" y1="421.4" x2="216.7" y2="421.4" stroke="#4c4c4c" stroke-width="0.75" />
<line x1="207.0" y1="431.1" x2="216.7" y2="431.1" stroke="#4c4c4c" stroke-width="0.75" />
<rect x="138.8" y="422.0" width="1.4" height="8.4" fill="#fff" stroke="#4c4c4c" stroke-width="0.69" rx="0" />
<rect x="216.7" y="422.0" width="1.5" height="8.4" fill="#fff" stroke="#4c4c4c" stroke-width="0.69" rx="0" />
<line x1="150.7" y1="423.5" x2="162.7" y2="423.5" stroke="#4c4c4c" stroke-width="0.57" />
<line x1="150.7" y1="431.5" x2="162.7" y2="431.5" stroke="#4c4c4c" stroke-width="0.57" />
<rect x="151.5" y="431.5" width="10.4" height="3.3" fill="#8c8c8c" stroke="#4c4c4c" stroke-width="0.34" rx="0" />
<line x1="195.7" y1="423.5" x2="207.0" y2="423.5" stroke="#4c4c4c" stroke-width="0.57" />
<line x1="195.7" y1="431.5" x2="207.0" y2="431.5" stroke="#4c4c4c" stroke-width="0.57" />
<rect x="196.5" y="431.5" width="9.7" height="3.3" fill="#8c8c8c" stroke="#4c4c4c" stroke-width="0.34" rx="0" />
<line x1="133.0" y1="426.2" x2="224.0" y2="426.2" stroke="#4c4c4c" stroke-width="0.69" />
<path d="M111,378.4 L124,378.4 L121.8,376.5 L127,379 L111,379.6 Z" fill="#444" stroke="#4c4c4c" stroke-width="0.92" />
<text x="118.5" y="373.8" font-size="4.2" font-family="'Liberation Sans','Noto Sans CJK SC',sans-serif" fill="#777" text-anchor="middle" >流向</text>
<line x1="317.0" y1="384.5" x2="547.5" y2="384.5" stroke="#4c4c4c" stroke-width="0.69" />
<polygon points="331.4,367.4 331.4,364.5 378.7,364.5 405.2,346.5 405.2,330.5 407.5,328.0 416.8,328.0 416.8,346.0 418.0,346.0 418.0,367.4" fill="url(#h1)" stroke="#4c4c4c" stroke-width="0.80" />
<polygon points="331.4,398.4 331.4,401.3 378.7,401.3 405.2,420.5 418.0,420.5 418.0,398.4" fill="url(#h1)" stroke="#4c4c4c" stroke-width="0.80" />
<polygon points="543.5,367.4 543.5,364.5 497.7,364.5 472.0,346.5 472.0,330.5 469.7,328.0 461.8,328.0 461.8,346.0 458.3,346.0 458.3,367.4" fill="url(#h2)" stroke="#4c4c4c" stroke-width="0.80" />
<polygon points="543.5,398.4 543.5,401.3 497.7,401.3 472.0,420.5 458.3,420.5 458.3,398.4" fill="url(#h2)" stroke="#4c4c4c" stroke-width="0.80" />
<rect x="331.4" y="364.5" width="47.3" height="2.9" fill="url(#h1)" stroke="#4c4c4c" stroke-width="0.69" rx="0" />
<rect x="331.4" y="398.4" width="47.3" height="2.9" fill="url(#h1)" stroke="#4c4c4c" stroke-width="0.69" rx="0" />
<rect x="497.7" y="364.5" width="45.8" height="2.9" fill="url(#h2)" stroke="#4c4c4c" stroke-width="0.69" rx="0" />
<rect x="497.7" y="398.4" width="45.8" height="2.9" fill="url(#h2)" stroke="#4c4c4c" stroke-width="0.69" rx="0" />
<line x1="331.4" y1="364.5" x2="331.4" y2="401.3" stroke="#4c4c4c" stroke-width="0.92" />
<line x1="543.5" y1="364.5" x2="543.5" y2="401.3" stroke="#4c4c4c" stroke-width="0.92" />
<rect x="418.0" y="346.0" width="19.3" height="21.4" fill="url(#h2)" stroke="#4c4c4c" stroke-width="0.69" rx="0" />
<rect x="441.0" y="346.0" width="17.3" height="21.4" fill="url(#h1)" stroke="#4c4c4c" stroke-width="0.69" rx="0" />
<polygon points="418.0,398.4 439.2,398.4 439.2,419.5 419.0,419.5 419.0,417.0 418.0,417.0" fill="url(#h2)" stroke="#4c4c4c" stroke-width="0.69" />
<polygon points="458.3,398.4 439.2,398.4 439.2,419.5 457.3,419.5 457.3,417.0 458.3,417.0" fill="url(#h1)" stroke="#4c4c4c" stroke-width="0.69" />
<rect x="424.4" y="359.8" width="10.1" height="3.7" fill="#fff" stroke="#4c4c4c" stroke-width="0.69" rx="0" />
<rect x="443.2" y="359.8" width="9.6" height="3.7" fill="#fff" stroke="#4c4c4c" stroke-width="0.69" rx="0" />
<rect x="424.7" y="403.3" width="10.3" height="5.2" fill="#fff" stroke="#4c4c4c" stroke-width="0.69" rx="0" />
<rect x="443.0" y="403.3" width="10.3" height="5.2" fill="#fff" stroke="#4c4c4c" stroke-width="0.69" rx="0" />
<line x1="418.0" y1="367.4" x2="418.0" y2="398.4" stroke="#4c4c4c" stroke-width="0.80" />
<line x1="458.3" y1="367.4" x2="458.3" y2="398.4" stroke="#4c4c4c" stroke-width="0.80" />
<line x1="420.2" y1="367.4" x2="420.2" y2="398.4" stroke="#4c4c4c" stroke-width="0.57" />
<line x1="456.0" y1="367.4" x2="456.0" y2="398.4" stroke="#4c4c4c" stroke-width="0.57" />
<line x1="416.8" y1="333.0" x2="461.8" y2="333.0" stroke="#666" stroke-width="0.57" />
<line x1="416.8" y1="336.5" x2="461.8" y2="336.5" stroke="#666" stroke-width="0.57" />
<line x1="416.8" y1="339.5" x2="461.8" y2="339.5" stroke="#666" stroke-width="0.57" />
<line x1="416.8" y1="343.0" x2="461.8" y2="343.0" stroke="#666" stroke-width="0.57" />
<rect x="421.5" y="327.0" width="35.0" height="19.5" fill="none" stroke="#4c4c4c" stroke-width="0.69" rx="0" />
<line x1="421.0" y1="327.0" x2="457.0" y2="327.0" stroke="#8a8a8a" stroke-width="2.07" />
<rect x="423.0" y="327.6" width="11.0" height="21.4" fill="#e8e8e8" stroke="#4c4c4c" stroke-width="0.69" rx="0" />
<rect x="426.5" y="328.0" width="5.0" height="20.5" fill="#c8c8c8" stroke="#4c4c4c" stroke-width="0.57" rx="0" />
<line x1="429.0" y1="349.0" x2="429.0" y2="360.0" stroke="#555" stroke-width="1.15" stroke-dasharray="4 1.2 1.5 1.2"/>
<rect x="444.5" y="327.6" width="11.0" height="21.4" fill="#e8e8e8" stroke="#4c4c4c" stroke-width="0.69" rx="0" />
<rect x="447.5" y="328.0" width="5.0" height="20.5" fill="#c8c8c8" stroke="#4c4c4c" stroke-width="0.57" rx="0" />
<line x1="450.0" y1="349.0" x2="450.0" y2="360.0" stroke="#555" stroke-width="1.15" stroke-dasharray="4 1.2 1.5 1.2"/>
<rect x="437.0" y="345.5" width="4.0" height="70.5" fill="url(#h1)" stroke="#4c4c4c" stroke-width="0.92" rx="1" />
<rect x="437.9" y="378.0" width="2.2" height="13.0" fill="#999" stroke="#4c4c4c" stroke-width="0.46" rx="0" />
<polygon points="399.0,330.0 403.2,330.0 405.2,332.0 405.2,344.4 403.2,346.4 399.0,346.4 397.0,344.4 397.0,332.0" fill="#fff" stroke="#4c4c4c" stroke-width="1.03" />
<line x1="397.0" y1="334.1" x2="405.2" y2="334.1" stroke="#4c4c4c" stroke-width="0.75" />
<line x1="397.0" y1="342.3" x2="405.2" y2="342.3" stroke="#4c4c4c" stroke-width="0.75" />
<polygon points="475.0,330.0 479.3,330.0 481.3,332.0 481.3,344.4 479.3,346.4 475.0,346.4 473.0,344.4 473.0,332.0" fill="#fff" stroke="#4c4c4c" stroke-width="1.03" />
<line x1="473.0" y1="334.1" x2="481.3" y2="334.1" stroke="#4c4c4c" stroke-width="0.75" />
<line x1="473.0" y1="342.3" x2="481.3" y2="342.3" stroke="#4c4c4c" stroke-width="0.75" />
<rect x="392.3" y="333.6" width="4.7" height="8.2" fill="#fff" stroke="#4c4c4c" stroke-width="0.80" rx="1.8" />
<rect x="481.3" y="333.6" width="4.5" height="8.2" fill="#fff" stroke="#4c4c4c" stroke-width="0.80" rx="1.8" />
<line x1="386.0" y1="337.3" x2="423.0" y2="337.3" stroke="#4c4c4c" stroke-width="0.69" />
<line x1="455.5" y1="337.3" x2="493.0" y2="337.3" stroke="#4c4c4c" stroke-width="0.69" />
<rect x="404.3" y="424.0" width="69.7" height="11.0" fill="#fff" stroke="#4c4c4c" stroke-width="0.80" rx="0" />
<line x1="404.3" y1="427.0" x2="474.0" y2="427.0" stroke="#888" stroke-width="0.46" />
<polygon points="398.0,421.2 402.3,421.2 404.3,423.2 404.3,436.6 402.3,438.6 398.0,438.6 396.0,436.6 396.0,423.2" fill="#fff" stroke="#4c4c4c" stroke-width="1.03" />
<line x1="396.0" y1="425.6" x2="404.3" y2="425.6" stroke="#4c4c4c" stroke-width="0.75" />
<line x1="396.0" y1="434.2" x2="404.3" y2="434.2" stroke="#4c4c4c" stroke-width="0.75" />
<polygon points="476.0,421.2 479.3,421.2 481.3,423.2 481.3,436.6 479.3,438.6 476.0,438.6 474.0,436.6 474.0,423.2" fill="#fff" stroke="#4c4c4c" stroke-width="1.03" />
<line x1="474.0" y1="425.6" x2="481.3" y2="425.6" stroke="#4c4c4c" stroke-width="0.75" />
<line x1="474.0" y1="434.2" x2="481.3" y2="434.2" stroke="#4c4c4c" stroke-width="0.75" />
<rect x="391.4" y="424.3" width="4.6" height="10.0" fill="#fff" stroke="#4c4c4c" stroke-width="0.80" rx="1.8" />
<rect x="481.3" y="424.3" width="4.5" height="10.0" fill="#fff" stroke="#4c4c4c" stroke-width="0.80" rx="1.8" />
<rect x="404.3" y="422.0" width="10.0" height="18.4" fill="#fff" stroke="#4c4c4c" stroke-width="0.80" rx="0" />
<rect x="463.0" y="422.0" width="11.0" height="18.4" fill="#fff" stroke="#4c4c4c" stroke-width="0.80" rx="0" />
<line x1="404.3" y1="424.5" x2="414.3" y2="424.5" stroke="#4c4c4c" stroke-width="0.57" />
<line x1="463.0" y1="424.5" x2="474.0" y2="424.5" stroke="#4c4c4c" stroke-width="0.57" />
<rect x="404.3" y="435.0" width="10.0" height="5.4" fill="url(#h1)" stroke="#4c4c4c" stroke-width="0.69" rx="0" />
<rect x="463.0" y="435.0" width="11.0" height="5.4" fill="url(#h2)" stroke="#4c4c4c" stroke-width="0.69" rx="0" />
<line x1="387.0" y1="429.4" x2="493.0" y2="429.4" stroke="#4c4c4c" stroke-width="0.69" />
<path d="M347.3,377.7 L366,377.7 L366.8,374.3 L378.7,381.3 L378.7,381.8 L347.3,381.8 Z" fill="#fff" stroke="#4c4c4c" stroke-width="0.80" />
<text x="117.2 122.0 127.4 135.8 144.1 149.8 160.8 169.1 174.2 180.0" y="46.3" font-size="10.8" font-family="'Liberation Mono','Noto Sans CJK SC',monospace" fill="#6e6e6e" text-anchor="middle"><tspan>4.0</tspan><tspan font-size="15" dy="1.2">≤</tspan><tspan dy="-1.2">PN</tspan><tspan font-size="15" dy="1.2">≤</tspan><tspan dy="-1.2">6.3</tspan></text>
<text x="382.6 388.3 398.1 407.0 412.3 417.9" y="46.3" font-size="10.8" font-family="'Liberation Mono','Noto Sans CJK SC',monospace" fill="#6e6e6e" text-anchor="middle"><tspan>PN</tspan><tspan font-size="15" dy="1.2">≤</tspan><tspan dy="-1.2">2.5</tspan></text>
<text x="116.3 122.0 131.8 140.7 146.0 151.6" y="278" font-size="10.8" font-family="'Liberation Mono','Noto Sans CJK SC',monospace" fill="#6e6e6e" text-anchor="middle"><tspan>PN</tspan><tspan font-size="15" dy="1.2">≤</tspan><tspan dy="-1.2">2.5</tspan></text>
<text x="383.2 388.0 393.4 401.8 410.1 415.8 426.8 435.1 440.2 446.0" y="278" font-size="10.8" font-family="'Liberation Mono','Noto Sans CJK SC',monospace" fill="#6e6e6e" text-anchor="middle"><tspan>4.0</tspan><tspan font-size="15" dy="1.2">≤</tspan><tspan dy="-1.2">PN</tspan><tspan font-size="15" dy="1.2">≤</tspan><tspan dy="-1.2">6.3</tspan></text>
</svg>
</body>
</html>
